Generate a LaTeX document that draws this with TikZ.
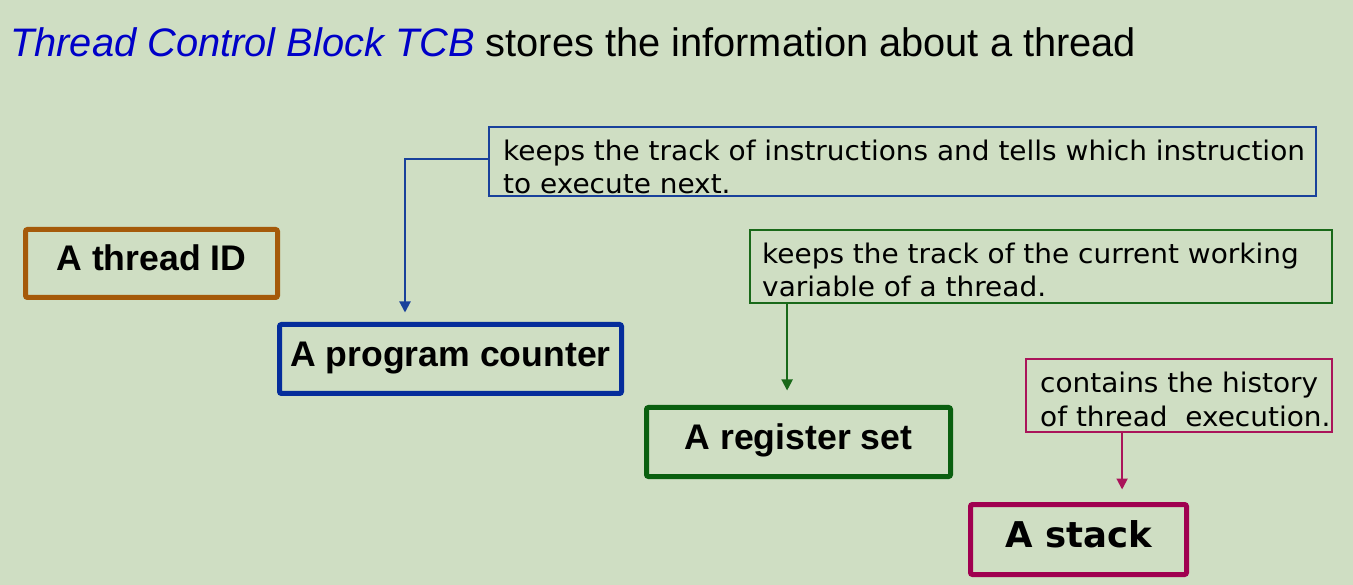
\documentclass[tikz,border=0pt]{standalone}
\usepackage{fontspec}
\setmainfont{Liberation Sans}
\newfontfamily\notefont[FakeStretch=1.035]{DejaVu Sans}
\newfontfamily\stackfont{DejaVu Sans}
\usetikzlibrary{arrows.meta}

\definecolor{bg}{RGB}{207,222,195}
\definecolor{tblue}{RGB}{0,0,200}
\definecolor{idc}{RGB}{165,90,10}
\definecolor{pcc}{RGB}{5,45,155}
\definecolor{rsc}{RGB}{10,95,15}
\definecolor{stc}{RGB}{160,0,80}
\definecolor{pcnote}{RGB}{25,65,155}
\definecolor{rsnote}{RGB}{25,105,25}
\definecolor{stnote}{RGB}{170,20,90}

\tikzset{
  item/.style={draw, line width=5pt, rounded corners=2pt, inner sep=0pt,
    text height=25pt, text depth=10pt,
    font=\fontsize{35.6}{40}\selectfont\bfseries},
  note/.style={draw, line width=1.8pt, inner sep=0pt},
  notetext/.style={anchor=base west, inner sep=0pt,
    font=\notefont\fontsize{27}{32}\selectfont},
  link/.style={line width=2pt, -{Triangle[length=11pt,width=11pt]}}
}

\begin{document}
\begin{tikzpicture}[x=1pt,y=-1pt]
\fill[bg] (0,0) rectangle (1353,585);
\useasboundingbox (0,0) rectangle (1353,585);

% heading
\node[anchor=base west, inner sep=0pt, font=\fontsize{39.8}{45}\selectfont] (title) at (10,57)
  {\textcolor{tblue}{\itshape Thread Control Block TCB} stores the information about a thread};

% the four parts of a TCB
\node[item, draw=idc, minimum width=252pt, minimum height=68pt] (tid) at (151.5,263.5) {A thread ID};
\node[item, draw=pcc, minimum width=342pt, minimum height=69pt] (pc) at (450.5,359) {A program counter};
\node[item, draw=rsc, minimum width=304pt, minimum height=69pt] (rs) at (798.5,442) {A register set};
\node[item, draw=stc, minimum width=216pt, minimum height=70pt,
      font=\stackfont\fontsize{35.5}{40}\selectfont\bfseries] (st) at (1078.5,539.5) {A stack};

% explanatory notes
\node[note, draw=pcnote, minimum width=827pt, minimum height=69pt] (n1) at (902.5,161.5) {};
\node[notetext] (n1a) at (503,161) {keeps the track of instructions and tells which instruction};
\node[notetext] (n1b) at (503,194) {to execute next.};

\node[note, draw=rsnote, minimum width=582pt, minimum height=73pt] (n2) at (1041,266.5) {};
\node[notetext] (n2a) at (762,264) {keeps the track of the current working};
\node[notetext] (n2b) at (762,297) {variable of a thread.};

\node[note, draw=stnote, minimum width=306pt, minimum height=73pt] (n3) at (1179,395.5) {};
\node[notetext] (n3a) at (1040,393) {contains the history};
\node[notetext] (n3b) at (1040,427) {of thread\ \ execution.};

% connectors
\draw[link, draw=pcnote, shorten >=9.5pt] ([yshift=2.5pt]n1.west) -| ([xshift=-45.5pt]pc.north);
\draw[link, draw=rsnote, shorten >=14.5pt]
  ([xshift=38pt]n2.south west) -- ([xshift=38pt]n2.south west |- rs.north);
\draw[link, draw=stnote, shorten >=12.5pt]
  ([xshift=97pt]n3.south west) -- ([xshift=97pt]n3.south west |- st.north);
\end{tikzpicture}
\end{document}
